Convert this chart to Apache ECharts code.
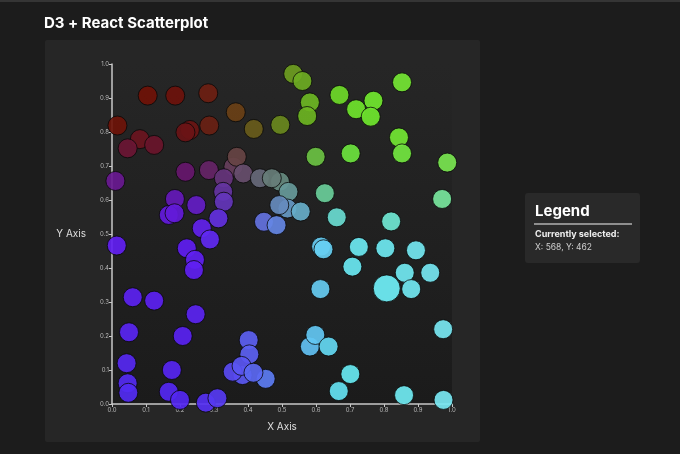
<!DOCTYPE html>
<html>
<head>
<meta charset="utf-8">
<script src="https://cdn.jsdelivr.net/npm/echarts@6/dist/echarts.min.js"></script>
<style>
  html, body { margin: 0; padding: 0; background: #1c1c1c; }
  #chart { width: 680px; height: 454px; }
</style>
</head>
<body>
<div id="chart"></div>
<script>
// ---- data (x, y in data units) ----
const redPoints = [
  [0.105,0.907],[0.186,0.907],[0.283,0.914],[0.016,0.819],[0.082,0.779],[0.046,0.752],
  [0.124,0.762],[0.229,0.806],[0.216,0.799],[0.286,0.819],[0.364,0.858],[0.417,0.809],[0.495,0.821]
];
const greenPoints = [
  [0.533,0.971],[0.560,0.950],[0.582,0.887],[0.574,0.847],[0.669,0.909],[0.769,0.892],
  [0.718,0.867],[0.761,0.845],[0.853,0.946],[0.844,0.784],[0.853,0.737],[0.599,0.727],
  [0.702,0.737],[0.986,0.710],[0.971,0.603],[0.626,0.620],[0.661,0.549],[0.821,0.537]
];
const centerPoints = [
  [0.357,0.698],[0.367,0.727],[0.386,0.678],[0.435,0.664],[0.494,0.654],[0.470,0.664],
  [0.519,0.624],[0.516,0.575],[0.492,0.585],[0.555,0.566],[0.447,0.536],[0.484,0.526]
];
const purplePoints = [
  [0.010,0.656],[0.216,0.683],[0.285,0.688],[0.329,0.664],[0.327,0.624],[0.329,0.595],
  [0.185,0.603],[0.248,0.585],[0.167,0.556],[0.184,0.561],[0.313,0.546],[0.264,0.517],
  [0.288,0.484],[0.014,0.466],[0.220,0.458]
];
const violetPoints = [
  [0.244,0.424],[0.241,0.394],[0.061,0.314],[0.124,0.304],[0.246,0.264],[0.050,0.211],
  [0.208,0.200],[0.043,0.120],[0.176,0.100],[0.046,0.061],[0.048,0.033],[0.167,0.036],
  [0.200,0.012],[0.276,0.004],[0.310,0.017]
];
const bluePoints = [
  [0.402,0.188],[0.404,0.146],[0.384,0.085],[0.355,0.095],[0.381,0.112],[0.452,0.074],[0.416,0.092]
];
const cyanPoints = [
  [0.615,0.463],[0.622,0.455],[0.726,0.462],[0.804,0.458],[0.894,0.452],[0.707,0.404],
  [0.861,0.386],[0.936,0.386],[0.880,0.338],[0.613,0.338],[0.974,0.220],[0.582,0.169],
  [0.598,0.203],[0.637,0.169],[0.701,0.088],[0.667,0.038],[0.859,0.026],[0.975,0.012]
];
const selectedPoint = [[0.808,0.340]];
const tickValues = [0,0.1,0.2,0.3,0.4,0.5,0.6,0.7,0.8,0.9,1.0];

const allPoints = [].concat(redPoints, greenPoints, centerPoints, purplePoints, violetPoints, bluePoints, cyanPoints);

// colour derived from the point position
function smooth(a, b, v) {
  let t = (v - a) / (b - a);
  t = Math.max(0, Math.min(1, t));
  return t * t * (3 - 2 * t);
}
function pointColor(x, y) {
  const r = 82 + 40 * x * x + 35 * y * (1 - x);
  const g = 15 + 215 * smooth(0.2, 0.75, x) + 30 * (1 - y) * (1 - x);
  const b = 60 * x + (242 - 60 * x) * smooth(0.86 - 0.08 * x, 0.5 - 0.06 * x, y);
  return 'rgb(' + Math.round(r) + ',' + Math.round(Math.min(235, g)) + ',' + Math.round(b) + ')';
}

const FONT = 'Inter, "Noto Sans", sans-serif';
const chart = echarts.init(document.getElementById('chart'), null, { renderer: 'canvas' });

const axisCommon = {
  type: 'value', min: 0, max: 1, interval: 0.1,
  axisLine: { show: true, onZero: false, lineStyle: { color: '#c8c8c8', width: 1.5 } },
  axisTick: { show: true, length: 3, lineStyle: { color: '#c8c8c8', width: 1 } },
  axisLabel: { fontSize: 6, color: '#b8b8b8', margin: 3, fontFamily: FONT,
    formatter: v => (tickValues.indexOf(Math.round(v * 10) / 10) >= 0 ? v.toFixed(1) : '') },
  splitLine: { show: false },
  nameLocation: 'middle',
  nameTextStyle: { color: '#dedede', fontSize: 10, fontFamily: FONT }
};

chart.setOption({
  backgroundColor: '#1c1c1c',
  animation: false,
  title: {
    text: 'D3 + React Scatterplot', left: 39, top: 11,
    textStyle: { color: '#ffffff', fontSize: 15, fontWeight: 'bold', fontFamily: FONT }
  },
  grid: { left: 112, top: 64, width: 340, height: 340, containLabel: false },
  xAxis: Object.assign({}, axisCommon, { name: 'X Axis', nameGap: 18 }),
  yAxis: Object.assign({}, axisCommon, { name: 'Y Axis', nameGap: 26, nameRotate: 0 }),
  graphic: [
    { type: 'rect', z: -20, silent: true, shape: { x: 0, y: 0, width: 680, height: 2 }, style: { fill: '#353535' } },
    { type: 'rect', z: -20, silent: true, shape: { x: 45, y: 40, width: 435, height: 402, r: 2 }, style: { fill: '#262626' } },
    { type: 'rect', z: -19, silent: true, shape: { x: 112, y: 64, width: 340, height: 340 },
      style: { fill: new echarts.graphic.LinearGradient(0, 0, 0, 1, [
        { offset: 0, color: '#262626' }, { offset: 1, color: '#1b1b1b' }]) } },
    { type: 'rect', z: -20, silent: true, shape: { x: 525, y: 193, width: 115, height: 70, r: 3 }, style: { fill: '#292929' } },
    { type: 'text', z: 10, left: 535, top: 204, style: { text: 'Legend', fill: '#ffffff', font: 'bold 15px ' + FONT } },
    { type: 'rect', z: 10, silent: true, shape: { x: 534, y: 223, width: 98, height: 2 }, style: { fill: '#8e8e8e' } },
    { type: 'text', z: 10, left: 535, top: 230, style: { text: 'Currently selected:', fill: '#f0f0f0', font: 'bold 9px ' + FONT } },
    { type: 'text', z: 10, left: 535, top: 243, style: { text: 'X: 568, Y: 462', fill: '#cfcfcf', font: '8.5px ' + FONT } }
  ],
  series: [
    {
      type: 'scatter', symbol: 'circle', symbolSize: 19,
      data: allPoints,
      itemStyle: {
        color: p => pointColor(p.data[0], p.data[1]),
        borderColor: 'rgba(8,8,8,0.85)', borderWidth: 1, opacity: 0.92
      }
    },
    {
      type: 'scatter', symbol: 'circle', symbolSize: 27,
      data: selectedPoint,
      itemStyle: {
        color: p => pointColor(p.data[0], p.data[1]),
        borderColor: 'rgba(8,8,8,0.85)', borderWidth: 1, opacity: 0.95
      }
    }
  ]
});
</script>
</body>
</html>
